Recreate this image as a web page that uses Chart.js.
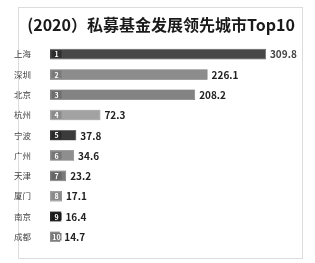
<!DOCTYPE html>
<html>
<head>
<meta charset="utf-8">
<script src="https://cdn.jsdelivr.net/npm/chart.js@4"></script>
<style>
  html, body { margin: 0; padding: 0; background: #fff; }
  #wrap { width: 315px; height: 263px; }
</style>
</head>
<body>
<div id="wrap"><canvas id="rankChart" width="315" height="263"></canvas></div>
<script>
const titleText = '(2020）私募基金发展领先城市Top10';
const cities = ['上海', '深圳', '北京', '杭州', '宁波', '广州', '天津', '厦门', '南京', '成都'];
const amounts = [309.8, 226.1, 208.2, 72.3, 37.8, 34.6, 23.2, 17.1, 16.4, 14.7];
const ranks = ['1', '2', '3', '4', '5', '6', '7', '8', '9', '10'];
const barColors = ['#474747', '#8c8c8c', '#838383', '#a2a2a2', '#3b3b3b', '#8e8e8e', '#7a7a7a', '#9c9c9c', '#262626', '#8a8a8a'];
const boxColors = ['#2e2e2e', '#7a7a7a', '#6e6e6e', '#8a8a8a', '#2a2a2a', '#767676', '#666666', '#8a8a8a', '#1a1a1a', '#777777'];

const FONT = '"Noto Sans CJK SC", "Noto Sans", sans-serif';

// 外枠とタイトル
const framePlugin = {
    id: 'frame',
    beforeDraw(chart) {
        const ctx = chart.ctx;
        ctx.save();
        ctx.strokeStyle = '#dcdcdc';
        ctx.lineWidth = 1;
        ctx.strokeRect(18.5, 7.5, 284, 251);
        ctx.fillStyle = '#1a1a1a';
        ctx.font = 'bold 16px ' + FONT;
        ctx.textAlign = 'center';
        ctx.textBaseline = 'middle';
        ctx.fillText(titleText, 161, 25);
        ctx.restore();
    }
};

// 順位ボックスと数値ラベル
const labelPlugin = {
    id: 'barLabels',
    afterDatasetsDraw(chart) {
        const ctx = chart.ctx;
        const meta = chart.getDatasetMeta(0);
        ctx.save();
        meta.data.forEach((bar, i) => {
            const h = bar.height;
            const top = bar.y - h / 2;
            // 順位ボックス
            ctx.fillStyle = boxColors[i];
            ctx.fillRect(bar.base + 1.5, top + 1.5, 10, h - 3);
            ctx.fillStyle = '#ffffff';
            ctx.font = 'bold 7px ' + FONT;
            ctx.textAlign = 'center';
            ctx.textBaseline = 'middle';
            ctx.fillText(ranks[i], bar.base + 6.5, bar.y + 0.5);
            // 数値
            ctx.fillStyle = i === 0 ? '#444' : '#222';
            ctx.font = 'bold 10px ' + FONT;
            ctx.textAlign = 'left';
            ctx.fillText(amounts[i].toFixed(1), bar.x + 4, bar.y + 0.5);
        });
        ctx.restore();
    }
};

new Chart(document.getElementById('rankChart').getContext('2d'), {
    type: 'bar',
    data: {
        labels: cities,
        datasets: [{
            data: amounts,
            backgroundColor: barColors,
            borderColor: '#555',
            borderWidth: 0.6,
            barPercentage: 0.52,
            categoryPercentage: 1
        }]
    },
    options: {
        indexAxis: 'y',
        responsive: false,
        animation: false,
        layout: { padding: { left: 0, right: 21, top: 44, bottom: 5 } },
        plugins: {
            legend: { display: false },
            tooltip: { enabled: false },
            title: { display: false }
        },
        scales: {
            x: { display: false, min: 0, max: 350 },
            y: {
                grid: { display: false },
                border: { display: false },
                ticks: {
                    color: '#444',
                    font: { family: FONT, size: 8.5 },
                    padding: 11
                },
                afterFit(scale) { scale.width = 50; }
            }
        }
    },
    plugins: [framePlugin, labelPlugin]
});
</script>
</body>
</html>
